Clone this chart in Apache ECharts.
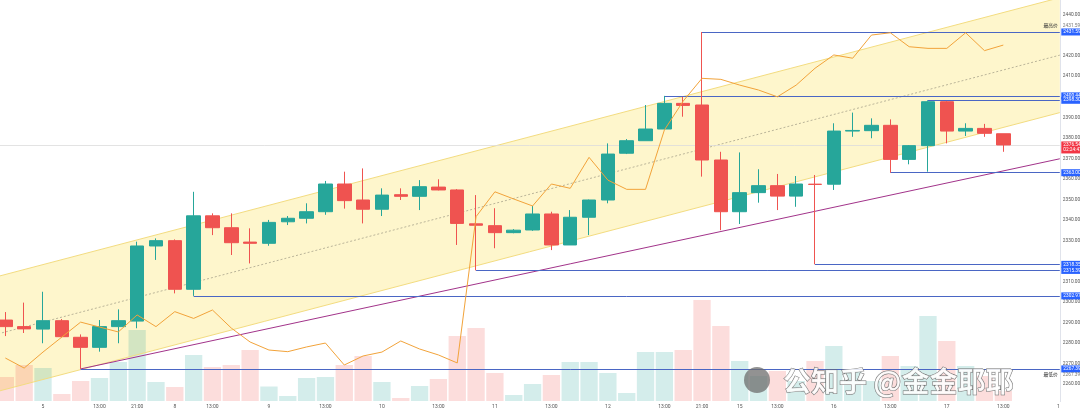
<!DOCTYPE html>
<html><head><meta charset="utf-8">
<script src="https://cdn.jsdelivr.net/npm/echarts@6/dist/echarts.min.js"></script>
<style>html,body{margin:0;padding:0;background:#fff}#c{width:1080px;height:410px}</style>
</head><body><div id="c"></div>
<script>
// category slots (one hidden slot before the first visible candle)
const xLabels = ['', '', '', '5', '', '', '13:00', '', '21:00', '', '8', '', '13:00', '', '', '9', '', '', '13:00', '', '', '10', '', '', '13:00', '', '', '11', '', '', '13:00', '', '', '12', '', '', '13:00', '', '21:00', '', '15', '', '13:00', '', '', '16', '', '', '13:00', '', '', '17', '', '', '13:00', '', '', '18'];

const opens  = [null, 2291.2, 2288.0, 2286.8, 2290.9, 2282.8, 2277.9, 2288.0, 2290.7, 2327.3, 2329.9, 2306.2, 2342.0, 2336.2, 2329.2, 2328.6, 2339.1, 2340.8, 2344.0, 2357.5, 2349.7, 2345.2, 2352.3, 2351.5, 2356.0, 2354.6, 2338.1, 2337.2, 2333.8, 2335.1, 2342.9, 2327.8, 2341.3, 2349.7, 2372.5, 2378.6, 2384.3, 2396.8, 2396.0, 2369.2, 2344.0, 2353.3, 2356.7, 2351.6, 2357.4, 2357.4, 2383.3, 2383.5, 2386.1, 2369.5, 2376.2, 2397.6, 2383.3, 2384.6, 2382.0, null, null, null];
const closes = [null, 2288.0, 2286.9, 2290.9, 2283.1, 2277.9, 2288.0, 2290.9, 2327.3, 2329.9, 2306.2, 2342.0, 2336.2, 2328.9, 2328.6, 2338.8, 2340.8, 2344.0, 2357.5, 2349.4, 2345.2, 2352.1, 2351.5, 2356.2, 2354.6, 2338.3, 2337.4, 2333.8, 2335.0, 2342.9, 2327.8, 2341.3, 2349.7, 2372.1, 2378.6, 2384.3, 2396.8, 2395.8, 2369.2, 2344.0, 2353.3, 2356.7, 2351.6, 2357.5, 2357.3, 2383.3, 2383.6, 2386.1, 2369.5, 2376.2, 2397.6, 2383.3, 2384.6, 2382.2, 2376.54, null, null, null];
const lows   = [null, 2283.4, 2284.9, 2279.9, 2282.8, 2267.39, 2275.8, 2279.9, 2287.2, 2320.5, 2304.2, 2302.975, 2332.6, 2322.9, 2318.8, 2327.4, 2337.5, 2338.3, 2342.5, 2345.5, 2338.3, 2341.9, 2349.7, 2344.8, 2354.4, 2327.8, 2315.39, 2326.2, 2333.5, 2334.7, 2325.3, 2327.8, 2332.6, 2348.1, 2372.1, 2378.6, 2384.0, 2390.3, 2361.1, 2335.0, 2338.0, 2348.4, 2344.8, 2346.4, 2318.35, 2354.6, 2380.5, 2379.8, 2363.0, 2367.1, 2363.5, 2377.3, 2380.9, 2380.5, 2373.2, null, null, null];
const highs  = [null, 2295.1, 2299.7, 2305.0, 2291.7, 2284.2, 2291.2, 2296.4, 2329.4, 2331.0, 2330.5, 2353.7, 2343.2, 2343.2, 2335.9, 2340.0, 2341.9, 2348.1, 2359.0, 2363.5, 2365.1, 2355.4, 2355.4, 2359.4, 2359.8, 2355.0, 2352.1, 2345.7, 2335.5, 2346.8, 2344.0, 2344.8, 2349.9, 2377.3, 2379.4, 2396.0, 2400.445, 2400.0, 2431.59, 2373.2, 2372.9, 2364.7, 2362.4, 2361.4, 2361.9, 2387.1, 2392.3, 2389.5, 2389.0, 2376.5, 2398.3, 2398.0, 2387.1, 2386.8, 2382.0, null, null, null];
const volumes = [null, 24, 36, 33, 7, 20, 23, 39, 71, 19, 14, 46, 34, 36, 51, 14.5, 5, 23, 24, 36, 45, 19, 3, 15, 22, 65, 73, 28, 6, 17, 26, 39, 39, 28, 8, 49, 49, 51, 101, 75, 40, 25, 30, 20, 40, 55, 30, 20, 45, 35, 85, 60, 35, 25, 10, null, null, null];
const overlay = [null, 2272.7, 2267.8, 2275.6, 2282.9, 2290.2, 2287.8, 2285.4, 2293.7, 2288.0, 2295.3, 2292.0, 2296.1, 2287.3, 2280.5, 2276.6, 2275.8, 2278.1, 2280.0, 2269.3, 2273.7, 2275.6, 2281.0, 2277.1, 2274.2, 2270.3, 2341.6, 2353.7, 2350.2, 2346.8, 2357.5, 2355.4, 2370.5, 2359.4, 2354.9, 2354.9, 2383.8, 2397.9, 2409.0, 2408.5, 2405.7, 2403.3, 2400.0, 2405.7, 2413.9, 2420.4, 2418.8, 2430.1, 2431.2, 2424.4, 2423.6, 2423.6, 2431.2, 2422.5, 2425.2, null, null, null];

const priceTicks = [2260, 2270, 2280, 2290, 2300, 2310, 2330, 2340, 2350, 2360, 2370, 2380, 2390, 2410, 2420, 2440];

const rayStart = [38, 36, 50, 48, 44, 26, 11, 5];
const rayPrice = [2431.59, 2400.445, 2398.3, 2363.0, 2318.35, 2315.39, 2302.975, 2267.39];
const lastPrice = 2376.54;
const countdown = '02:24:47';
const hiLabel = ['最高价', 2431.59];
const loLabel = ['最低价', 2267.39];

const chX = [0, 57];
const chUpper = [2311.0, 2448.3];
const chMid = [2283.0, 2420.3];
const chLower = [2255.0, 2392.3];
const trX = [5, 57];
const trY = [2267.39, 2369.8];

const UP = '#26a69a', DOWN = '#ef5350';
const FONT = 'Roboto';
const FS = 4.8;

const candleData = opens.map((o, i) => o == null ? '-' : [o, closes[i], lows[i], highs[i]]);
const volData = volumes.map((v, i) => v == null ? '-' : {
  value: v,
  itemStyle: { color: closes[i] >= opens[i] ? 'rgba(38,166,154,0.2)' : 'rgba(239,83,80,0.2)' }
});
const pair = (xs, ys) => xs.map((x, i) => [x, ys[i]]);

const rayLines = rayStart.map((s, i) => [
  { coord: [s, rayPrice[i]], label: { formatter: rayPrice[i].toFixed(3) } },
  { coord: [57, rayPrice[i]] }
]);

const chart = echarts.init(document.getElementById('c'), null, { renderer: 'canvas' });
chart.setOption({
  animation: false,
  backgroundColor: '#ffffff',
  textStyle: { fontFamily: FONT },
  grid: [
    { left: -13.5, right: 20.2, top: -5.8, height: 410.4, outerBoundsMode: 'none' },
    { left: -13.5, right: 20.2, top: 281, height: 120, outerBoundsMode: 'none' }
  ],
  xAxis: [
    { type: 'category', gridIndex: 0, data: xLabels, boundaryGap: false, show: false },
    { type: 'category', gridIndex: 1, data: xLabels, boundaryGap: false,
      axisLine: { show: false }, axisTick: { show: false }, splitLine: { show: false },
      axisLabel: { interval: 0, fontSize: 5, color: '#555', margin: 3, fontFamily: FONT } }
  ],
  yAxis: [
    { type: 'value', gridIndex: 0, position: 'right', min: 2250, max: 2450, interval: 10,
      splitLine: { show: false }, axisTick: { show: false },
      axisLine: { show: true, lineStyle: { color: '#e0e3eb' } },
      axisLabel: { fontSize: FS, color: '#555', margin: 3, fontFamily: FONT,
        formatter: v => priceTicks.indexOf(v) >= 0 ? v.toFixed(3) : '' } },
    { type: 'value', gridIndex: 1, min: 0, max: 120, show: false }
  ],
  series: [
    { type: 'custom', name: 'channel', xAxisIndex: 0, yAxisIndex: 0, clip: true, z: 1,
      data: [[chX[0], chX[1], chUpper[0], chUpper[1], chLower[0], chLower[1]]],
      encode: { x: [0, 1], y: [2, 3, 4, 5] },
      renderItem: (params, api) => {
        const a = api.coord([api.value(0), api.value(2)]);
        const b = api.coord([api.value(1), api.value(3)]);
        const c = api.coord([api.value(1), api.value(5)]);
        const d = api.coord([api.value(0), api.value(4)]);
        return { type: 'polygon', shape: { points: [a, b, c, d] },
          style: { fill: 'rgba(252,232,120,0.38)' } };
      } },
    { type: 'line', data: pair(chX, chUpper), symbol: 'none', z: 2,
      lineStyle: { color: '#f3dc80', width: 1 } },
    { type: 'line', data: pair(chX, chLower), symbol: 'none', z: 2,
      lineStyle: { color: '#f3dc80', width: 1 } },
    { type: 'line', data: pair(chX, chMid), symbol: 'none', z: 2,
      lineStyle: { color: '#a8a38c', width: 0.8, type: [2, 2] } },
    { type: 'bar', name: 'volume', xAxisIndex: 1, yAxisIndex: 1, data: volData,
      barWidth: '92%', z: 2 },
    { type: 'line', data: pair(trX, trY), symbol: 'none', z: 3,
      lineStyle: { color: '#a2338a', width: 1 } },
    { type: 'candlestick', name: 'price', data: candleData, barWidth: 14, z: 5,
      itemStyle: { color: UP, color0: DOWN, borderColor: UP, borderColor0: DOWN, borderWidth: 1 },
      markLine: {
        symbol: 'none', silent: true, animation: false,
        lineStyle: { color: '#4a66c4', width: 1, type: 'solid' },
        label: { show: true, position: 'end', distance: 1.5, fontSize: FS, color: '#fff',
          backgroundColor: '#2962ff', padding: [1, 2], fontFamily: FONT },
        data: rayLines.concat([
          { yAxis: lastPrice, lineStyle: { color: '#dcdcdc', width: 0.8, type: 'solid' },
            label: { formatter: lastPrice.toFixed(3) + '\n' + countdown, backgroundColor: '#f23645',
              lineHeight: 5, offset: [0, 2.5] } }
        ])
      },
      markPoint: {
        symbol: 'rect', symbolSize: 0, silent: true,
        data: [
          { coord: [57, hiLabel[1]], label: { show: true, position: 'right', distance: 3, offset: [0, -6.3],
              formatter: hiLabel[1].toFixed(3), color: '#777', fontSize: FS } },
          { coord: [57, hiLabel[1]], label: { show: true, position: 'left', distance: 2, offset: [0, -6.3],
              formatter: hiLabel[0], color: '#333', fontSize: FS, fontFamily: 'Noto Sans CJK SC' } },
          { coord: [57, loLabel[1]], label: { show: true, position: 'right', distance: 3, offset: [0, 5.4],
              formatter: loLabel[1].toFixed(3), color: '#777', fontSize: FS } },
          { coord: [57, loLabel[1]], label: { show: true, position: 'left', distance: 2, offset: [0, 5.4],
              formatter: loLabel[0], color: '#333', fontSize: FS, fontFamily: 'Noto Sans CJK SC' } }
        ]
      } },
    { type: 'line', name: 'overlay', data: overlay, symbol: 'none', z: 6,
      lineStyle: { color: '#f2a33a', width: 1 } }
  ],
  graphic: [
    { type: 'rect', z: 100, shape: { x: 1060, y: 402, width: 20, height: 8 }, style: { fill: '#fff' } },
    { type: 'circle', z: 90, shape: { cx: 757, cy: 380, r: 13 }, style: { fill: 'rgba(110,110,110,0.75)' } },
    { type: 'text', z: 90, x: 783, y: 381,
      style: { text: '公知乎 @金金耶耶', font: 'bold 28px "Noto Sans CJK SC"', fill: 'rgba(255,255,255,0.85)',
        stroke: '#6b6b6b', lineWidth: 1, verticalAlign: 'middle' } }
  ]
});
</script></body></html>
